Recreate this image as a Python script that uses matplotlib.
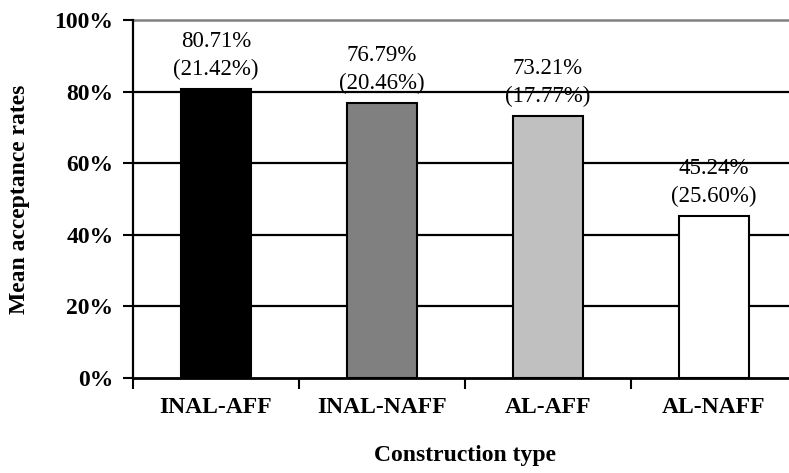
import matplotlib.pyplot as plt
import numpy as np

categories = ['INAL-AFF', 'INAL-NAFF', 'AL-AFF', 'AL-NAFF']
means = [80.71, 76.79, 73.21, 45.24]
sds = [21.42, 20.46, 17.77, 25.60]
colors = ['#000000', '#808080', '#c0c0c0', '#ffffff']

plt.rcParams['font.family'] = ['Liberation Serif', 'DejaVu Serif']

fig = plt.figure(figsize=(7.89, 4.73), dpi=100)
ax = fig.add_axes([133 / 789, 95 / 473, 664 / 789, 358 / 473])

x = np.arange(len(categories))
ax.bar(x, means, width=0.42, color=colors, edgecolor='black', linewidth=1.5, zorder=3)

for xi, m, s in zip(x, means, sds):
    ax.text(xi, m + 2.5, f'{m:.2f}%\n({s:.2f}%)', ha='center', va='bottom',
            fontsize=16.5, linespacing=1.45, zorder=4)

# grid lines, top one grey
for yv in [20, 40, 60, 80]:
    ax.axhline(yv, color='black', linewidth=1.6, zorder=1)
ax.axhline(100, color='#808080', linewidth=1.8, zorder=1, clip_on=False)

ax.set_xlim(-0.5, 3.5)
ax.set_ylim(0, 100)
ax.set_yticks([0, 20, 40, 60, 80, 100])
ax.set_yticklabels([f'{v}%' for v in range(0, 101, 20)], fontsize=17, fontweight='bold')

ax.set_xticks([-0.5, 0.5, 1.5, 2.5, 3.5])
ax.set_xticklabels([])
ax.set_xticks(x, minor=True)
ax.set_xticklabels(categories, minor=True, fontsize=17, fontweight='bold')
ax.tick_params(axis='x', which='minor', length=0, pad=14)
ax.tick_params(axis='x', which='major', length=8, width=1.5, direction='out')
ax.tick_params(axis='y', length=7, width=1.5, direction='out', pad=7)

for side in ['top', 'right']:
    ax.spines[side].set_visible(False)
ax.spines['left'].set_linewidth(1.6)
ax.spines['bottom'].set_linewidth(2.0)

ax.set_xlabel('Construction type', fontsize=17, fontweight='bold', labelpad=19)
ax.set_ylabel('Mean acceptance rates', fontsize=17, fontweight='bold', labelpad=18)

fig.savefig('out.png', dpi=100)
